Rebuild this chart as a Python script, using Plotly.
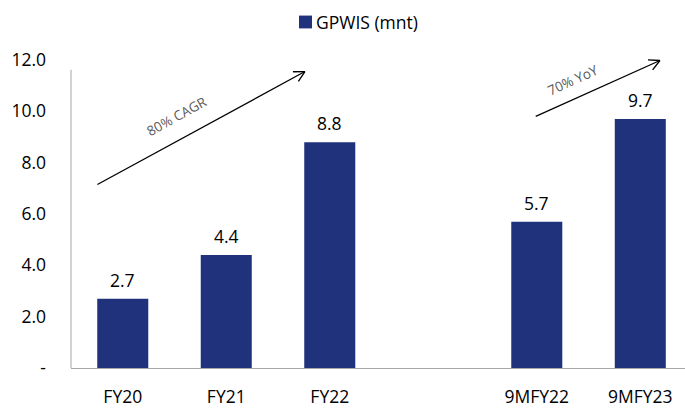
import math
import plotly.graph_objects as go

# ---- data ----
categories = ["FY20", "FY21", "FY22", " ", "9MFY22", "9MFY23"]
values = [2.7, 4.4, 8.8, None, 5.7, 9.7]
series_name = "GPWIS (mnt)"
y_tickvals = [0, 2, 4, 6, 8, 10, 12]
y_ticktext = ["-", "2.0", "4.0", "6.0", "8.0", "10.0", "12.0"]
growth_labels = ["80% CAGR", "70% YoY"]

# ---- call-out geometry: arrow tail/head in (category index, value) ----
arrow_geom = [
    ((-0.245, 7.15), (1.76, 11.55)),
    ((3.99, 9.8), (5.19, 11.98)),
]
# caption placement: fraction along the arrow, perpendicular offset in px
caption_place = [(0.435, 22), (0.36, 18)]

BAR_COLOR = "#21327c"
AXIS_GREY = "#a6a6a6"
FONT = "Open Sans, sans-serif"
FS = 17.5

W, H = 685, 408
M_L, M_R, M_T, M_B = 71, 0, 60, 36
X_RANGE = [-0.5, 5.432]
Y_RANGE = [0, 12]

pw = W - M_L - M_R
ph = H - M_T - M_B


def to_px(xv, yv):
    px = M_L + (xv - X_RANGE[0]) / (X_RANGE[1] - X_RANGE[0]) * pw
    py = M_T + ph - (yv - Y_RANGE[0]) / (Y_RANGE[1] - Y_RANGE[0]) * ph
    return px, py


def to_paper(px, py):
    return (px - M_L) / pw, (M_T + ph - py) / ph


fig = go.Figure()
fig.add_trace(go.Bar(
    x=categories, y=values, name=series_name,
    marker=dict(color=BAR_COLOR, line=dict(width=0)),
    showlegend=False,
))

annotations = []
shapes = []

# value labels above bars
for c, v in zip(categories, values):
    if v is None:
        continue
    annotations.append(dict(
        x=c, y=v, xref="x", yref="y", text=f"{v:.1f}", showarrow=False,
        yanchor="middle", yshift=19, font=dict(size=FS, color="#000000", family=FONT),
    ))

# growth arrows with open heads and rotated captions
for ((tx, ty), (hx, hy)), (frac, off), label in zip(arrow_geom, caption_place, growth_labels):
    x0, y0 = to_px(tx, ty)
    x1, y1 = to_px(hx, hy)
    ang = math.atan2(y1 - y0, x1 - x0)
    p0 = to_paper(x0, y0)
    p1 = to_paper(x1, y1)
    shapes.append(dict(type="line", xref="paper", yref="paper",
                       x0=p0[0], y0=p0[1], x1=p1[0], y1=p1[1],
                       line=dict(color="#000000", width=1.3)))
    for da in (math.radians(28), -math.radians(28)):
        ex = x1 - 12 * math.cos(ang + da)
        ey = y1 - 12 * math.sin(ang + da)
        pe = to_paper(ex, ey)
        shapes.append(dict(type="line", xref="paper", yref="paper",
                           x0=p1[0], y0=p1[1], x1=pe[0], y1=pe[1],
                           line=dict(color="#000000", width=1.3)))
    deg = math.degrees(math.atan2(-(y1 - y0), x1 - x0))
    mx, my = x0 + frac * (x1 - x0), y0 + frac * (y1 - y0)
    nx, ny = math.sin(ang), -math.cos(ang)
    pc = to_paper(mx + off * nx, my + off * ny)
    annotations.append(dict(
        x=pc[0], y=pc[1], xref="paper", yref="paper", text=label, showarrow=False,
        textangle=-deg, xanchor="center", yanchor="middle",
        font=dict(size=13.5, color="#595959", family=FONT),
    ))

# legend key: swatch + series name, centred above the plot
sw0 = to_paper(299, 15)
sw1 = to_paper(312, 28)
shapes.append(dict(type="rect", xref="paper", yref="paper",
                   x0=sw0[0], y0=sw0[1], x1=sw1[0], y1=sw1[1],
                   fillcolor=BAR_COLOR, line=dict(width=0)))
lt = to_paper(314, 21.5)
annotations.append(dict(x=lt[0], y=lt[1], xref="paper", yref="paper",
                        text=series_name, showarrow=False,
                        xanchor="left", yanchor="middle",
                        font=dict(size=FS, color="#000000", family=FONT)))

# y axis line stops a little short of the top
shapes.append(dict(type="line", xref="paper", yref="paper",
                   x0=0, x1=0, y0=0, y1=to_paper(0, 70)[1],
                   line=dict(color=AXIS_GREY, width=1)))

fig.update_layout(
    width=W, height=H,
    margin=dict(l=M_L, r=M_R, t=M_T, b=M_B, pad=0),
    paper_bgcolor="white", plot_bgcolor="white",
    font=dict(family=FONT, size=FS, color="#000000"),
    bargap=0.507,
    showlegend=False,
    xaxis=dict(type="category", range=X_RANGE, showgrid=False,
               showline=True, linecolor=AXIS_GREY, linewidth=1,
               ticks="", ticklabelstandoff=13, tickfont=dict(size=FS),
               zeroline=False),
    yaxis=dict(range=Y_RANGE, tickvals=y_tickvals, ticktext=y_ticktext,
               showgrid=False, showline=False, zeroline=False,
               ticks="", ticklabelstandoff=24, tickfont=dict(size=FS)),
    annotations=annotations,
    shapes=shapes,
)

fig.write_html("out.html")
